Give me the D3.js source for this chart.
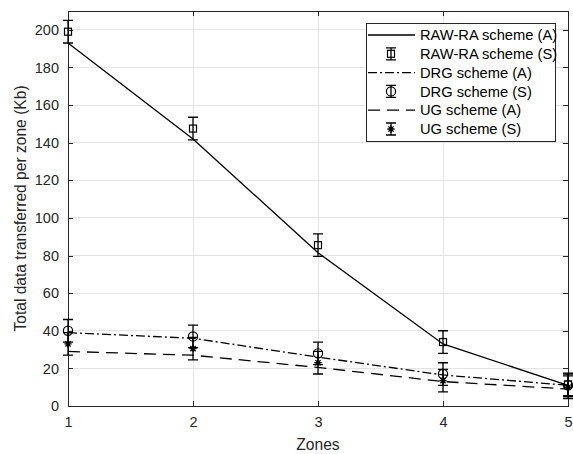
<!DOCTYPE html>
<meta charset='utf-8'>
<style>
    body { margin: 0; background: #fff; }
    svg { font-family: 'Liberation Sans', Arial, sans-serif; }
    .axis path, .axis line { stroke: #262626; shape-rendering: crispEdges; }
    .axis text { fill: #262626; font-size: 14.5px; }
</style>
<body>
<script src='https://d3js.org/d3.v7.min.js'></script>
<script>
    // data
    const zones = [1, 2, 3, 4, 5];
    const rawA = [193, 142, 81.5, 33, 11];
    const rawS = [199, 147.5, 85.5, 34, 11.5];
    const drgA = [39, 36, 26, 16.5, 11];
    const drgS = [40, 37, 28, 17, 11];
    const ugA = [29, 27, 20.5, 13, 9];
    const ugS = [33, 30.5, 23, 13.5, 10];
    const errS = 6;
    const yTicks = [0, 20, 40, 60, 80, 100, 120, 140, 160, 180, 200];

    const margin = { top: 11, right: 5, bottom: 48, left: 68 },
        width = 573 - margin.left - margin.right,
        height = 454 - margin.top - margin.bottom;

    const svg = d3.select('body').append('svg')
        .attr('width', 573).attr('height', 454);
    const g = svg.append('g')
        .attr('transform', `translate(${margin.left},${margin.top})`);

    const x = d3.scaleLinear().domain([1, 5]).range([0, width]);
    const y = d3.scaleLinear().domain([0, 210]).range([height, 0]);

    // grid
    g.append('g').selectAll('line').data(zones).enter().append('line')
        .attr('x1', d => x(d)).attr('x2', d => x(d))
        .attr('y1', 0).attr('y2', height)
        .attr('stroke', '#e3e3e3').attr('shape-rendering', 'crispEdges');
    g.append('g').selectAll('line').data(yTicks).enter().append('line')
        .attr('y1', d => y(d)).attr('y2', d => y(d))
        .attr('x1', 0).attr('x2', width)
        .attr('stroke', '#e3e3e3').attr('shape-rendering', 'crispEdges');

    // axes (MATLAB style: ticks inside, box on)
    g.append('g').attr('class', 'axis')
        .attr('transform', `translate(0,${height})`)
        .call(d3.axisBottom(x).tickValues(zones).tickFormat(d3.format('d'))
            .tickSizeInner(-5).tickSizeOuter(0).tickPadding(11));
    g.append('g').attr('class', 'axis')
        .call(d3.axisLeft(y).tickValues(yTicks).tickSizeInner(-5).tickSizeOuter(0).tickPadding(9));
    g.append('g').attr('class', 'axis')
        .call(d3.axisTop(x).tickValues(zones).tickFormat('').tickSizeInner(-5).tickSizeOuter(0));
    g.append('g').attr('class', 'axis')
        .attr('transform', `translate(${width},0)`)
        .call(d3.axisRight(y).tickValues(yTicks).tickFormat('').tickSizeInner(-5).tickSizeOuter(0));

    // axis labels
    svg.append('text')
        .attr('x', margin.left + width / 2).attr('y', 450)
        .attr('text-anchor', 'middle').attr('fill', '#262626')
        .style('font-size', '15.6px').text('Zones');
    svg.append('text')
        .attr('transform', `translate(26,${margin.top + height / 2}) rotate(-90)`)
        .attr('text-anchor', 'middle').attr('fill', '#262626')
        .style('font-size', '15.6px').text('Total data transferred per zone (Kb)');

    const line = d3.line().x((d, i) => x(zones[i])).y(d => y(d));
    const series = [
        { name: 'RAW-RA scheme (A)', vals: rawA, dash: null },
        { name: 'DRG scheme (A)', vals: drgA, dash: '9,3,2,3' },
        { name: 'UG scheme (A)', vals: ugA, dash: '12,7' }
    ];
    const sims = [
        { name: 'RAW-RA scheme (S)', vals: rawS, mark: 'square' },
        { name: 'DRG scheme (S)', vals: drgS, mark: 'circle' },
        { name: 'UG scheme (S)', vals: ugS, mark: 'star' }
    ];

    series.forEach(s => {
        g.append('path').datum(s.vals)
            .attr('d', line)
            .attr('fill', 'none').attr('stroke', '#000').attr('stroke-width', 1.3)
            .attr('stroke-dasharray', s.dash);
    });

    const drawMarker = (sel, mark) => {
        if (mark === 'square') {
            sel.append('rect').attr('x', -3.5).attr('y', -3.5).attr('width', 7).attr('height', 7)
                .attr('fill', 'none').attr('stroke', '#000').attr('stroke-width', 1.2);
        } else if (mark === 'circle') {
            sel.append('circle').attr('r', 4.6)
                .attr('fill', 'none').attr('stroke', '#000').attr('stroke-width', 1.2);
        } else {
            const r = 3.6, rd = 2.6;
            sel.append('path')
                .attr('d', `M${-r},0L${r},0M0,${-r}L0,${r}M${-rd},${-rd}L${rd},${rd}M${-rd},${rd}L${rd},${-rd}`)
                .attr('stroke', '#000').attr('stroke-width', 1.3);
        }
    };

    const drawErr = (sel, half) => {
        sel.append('path')
            .attr('d', `M0,${-half}L0,${half}M-5,${-half}L5,${-half}M-5,${half}L5,${half}`)
            .attr('stroke', '#000').attr('stroke-width', 1.3).attr('fill', 'none');
    };

    sims.forEach(s => {
        s.vals.forEach((v, i) => {
            const p = g.append('g')
                .attr('transform', `translate(${x(zones[i])},${y(v)})`);
            const half = y(v) - y(v + errS);
            drawErr(p, half);
            drawMarker(p, s.mark);
        });
    });

    // legend
    const legendItems = [
        { name: series[0].name, dash: series[0].dash },
        { name: sims[0].name, mark: sims[0].mark },
        { name: series[1].name, dash: series[1].dash },
        { name: sims[1].name, mark: sims[1].mark },
        { name: series[2].name, dash: series[2].dash },
        { name: sims[2].name, mark: sims[2].mark }
    ];
    const lg = svg.append('g').attr('transform', 'translate(366,23)');
    lg.append('rect').attr('width', 189).attr('height', 118)
        .attr('fill', '#fff').attr('stroke', '#262626').attr('shape-rendering', 'crispEdges');
    const rows = lg.selectAll('.legend').data(legendItems).enter().append('g')
        .attr('class', 'legend')
        .attr('transform', (d, i) => `translate(0,${12 + i * 18.8})`);
    rows.each(function(d) {
        const r = d3.select(this);
        if (d.mark) {
            const m = r.append('g').attr('transform', 'translate(25,0)');
            drawErr(m, 6);
            drawMarker(m, d.mark);
        } else {
            r.append('line').attr('x1', 2).attr('x2', 49).attr('y1', 0).attr('y2', 0)
                .attr('stroke', '#000').attr('stroke-width', 1.3)
                .attr('stroke-dasharray', d.dash);
        }
    });
    rows.append('text').attr('x', 54).attr('dy', '0.35em')
        .style('font-size', '14.7px').attr('fill', '#000')
        .text(d => d.name);
</script>
</body>
